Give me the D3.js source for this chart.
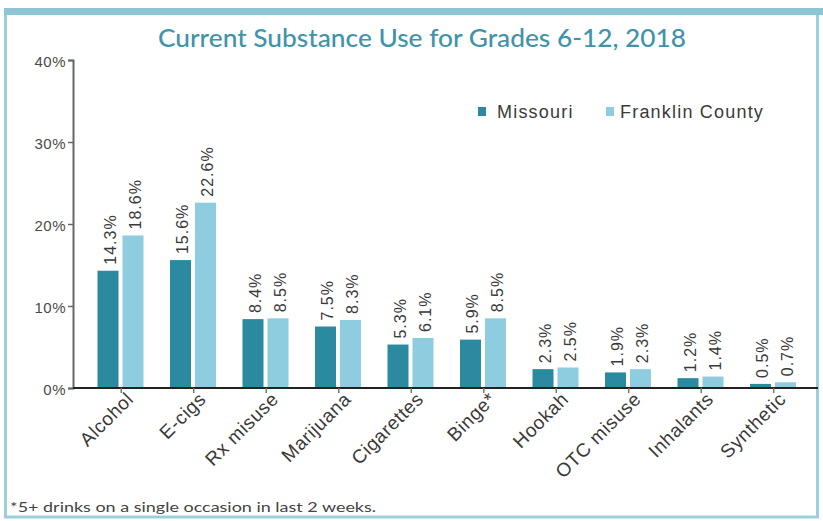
<!DOCTYPE html>
<html>
<head>
<meta charset="utf-8">
<script src="https://cdn.jsdelivr.net/npm/d3@7"></script>
<style>
  html, body { margin: 0; padding: 0; background: #fff; }
  svg { display: block; }
</style>
</head>
<body>
<svg id="chart" width="823" height="521"></svg>
<script>
// Substance use categories (x axis)
const categories = ["Alcohol", "E-cigs", "Rx misuse", "Marijuana", "Cigarettes",
                    "Binge*", "Hookah", "OTC misuse", "Inhalants", "Synthetic"];
// Series
const seriesNames = ["Missouri", "Franklin County"];
const missouri = [14.3, 15.6, 8.4, 7.5, 5.3, 5.9, 2.3, 1.9, 1.2, 0.5];
const franklin = [18.6, 22.6, 8.5, 8.3, 6.1, 8.5, 2.5, 2.3, 1.4, 0.7];
// Y axis ticks
const yTicks = [0, 10, 20, 30, 40];

const titleText = "Current Substance Use for Grades 6-12, 2018";
const footnoteText = "*5+ drinks on a single occasion in last 2 weeks.";

const colors = { "Missouri": "#2b8a9f", "Franklin County": "#8ecde0" };
const seriesValues = { "Missouri": missouri, "Franklin County": franklin };

const svg = d3.select("#chart");

// Frame
svg.append("rect")
  .attr("x", 5.5).attr("y", 12).attr("width", 812).attr("height", 505)
  .attr("fill", "#fff").attr("stroke", "#9acfdd").attr("stroke-width", 3);
svg.append("rect")
  .attr("x", 4).attr("y", 8).attr("width", 819).attr("height", 7)
  .attr("fill", "#8ec4d4");

// Title
svg.append("text")
  .attr("x", 422).attr("y", 47)
  .attr("text-anchor", "middle")
  .attr("font-family", "Lato, 'Open Sans', sans-serif")
  .attr("font-size", 25).attr("font-weight", 500)
  .attr("textLength", 528).attr("lengthAdjust", "spacingAndGlyphs")
  .attr("fill", "#3f93aa")
  .text(titleText);

// Scales
const x = d3.scaleBand().domain(categories).range([85, 810]);
const x1 = d3.scaleBand().domain(seriesNames)
  .range([12.5, 58.5]).paddingInner(0.16);
const y = d3.scaleLinear().domain([0, 40]).range([388, 60]);

// Y axis
const yAxis = d3.axisLeft(y).tickValues(yTicks)
  .tickFormat(d => d + "%").tickSize(5).tickSizeOuter(5);
const gy = svg.append("g").attr("transform", "translate(73,0)").call(yAxis);
gy.select(".domain").attr("stroke", "#666").attr("stroke-width", 2);
gy.selectAll(".tick line").attr("stroke", "#666").attr("stroke-width", 1.5);
gy.selectAll(".tick text")
  .attr("font-family", "'Liberation Sans', Arial, sans-serif")
  .attr("font-size", 15).attr("letter-spacing", 0.5)
  .attr("fill", "#4a4a4a").attr("x", -7).attr("dy", "0.45em");

// Bars
const groups = svg.append("g").selectAll("g")
  .data(categories).join("g")
  .attr("transform", d => `translate(${x(d)},0)`);

groups.selectAll("rect")
  .data((d, i) => seriesNames.map(s => ({ s, v: seriesValues[s][i] })))
  .join("rect")
  .attr("x", d => x1(d.s))
  .attr("width", x1.bandwidth())
  .attr("y", d => y(d.v))
  .attr("height", d => y(0) - y(d.v))
  .attr("fill", d => colors[d.s]);

// Value labels (vertical)
groups.selectAll("text.val")
  .data((d, i) => seriesNames.map(s => ({ s, v: seriesValues[s][i] })))
  .join("text")
  .attr("class", "val")
  .attr("transform", d => `translate(${x1(d.s) + x1.bandwidth() / 2 + 2},${y(d.v) - 6}) rotate(-90)`)
  .attr("dy", "0.35em")
  .attr("font-family", "'Liberation Sans', Arial, sans-serif")
  .attr("font-size", 16).attr("letter-spacing", 1)
  .attr("fill", "#3a3a3a")
  .text(d => d.v.toFixed(1) + "%");

// X axis
const xAxis = d3.axisBottom(x).tickSize(5).tickSizeOuter(0);
const gx = svg.append("g").attr("transform", "translate(0,388)").call(xAxis);
gx.select(".domain").attr("d", "M-12,0H733").attr("transform", "translate(85,0)")
  .attr("stroke", "#222").attr("stroke-width", 2);
gx.selectAll(".tick line").attr("stroke", "#777").attr("stroke-width", 1.5);
gx.selectAll(".tick text")
  .attr("font-family", "'Liberation Sans', Arial, sans-serif")
  .attr("font-size", 19).attr("letter-spacing", 0.6)
  .attr("fill", "#3a3a3a")
  .attr("text-anchor", "end")
  .attr("transform", "translate(3,2) rotate(-45)")
  .attr("x", 0).attr("y", 8).attr("dy", "0.35em");

// Legend
const legend = svg.append("g");
const legendItems = [
  { s: "Missouri", xs: 478, xt: 497 },
  { s: "Franklin County", xs: 606, xt: 620 }
];
legendItems.forEach(it => {
  legend.append("rect").attr("x", it.xs).attr("y", 107)
    .attr("width", 8).attr("height", 9).attr("fill", colors[it.s]);
  legend.append("text").attr("x", it.xt).attr("y", 112).attr("dy", "0.35em")
    .attr("font-family", "'Liberation Sans', Arial, sans-serif")
    .attr("font-size", 18).attr("letter-spacing", 1.2)
    .attr("fill", "#3a3a3a").text(it.s);
});

// Footnote
svg.append("text")
  .attr("x", 10).attr("y", 512)
  .attr("font-family", "Lato, 'Open Sans', sans-serif")
  .attr("font-size", 13)
  .attr("textLength", 366).attr("lengthAdjust", "spacingAndGlyphs")
  .attr("fill", "#444")
  .text(footnoteText);
</script>
</body>
</html>
